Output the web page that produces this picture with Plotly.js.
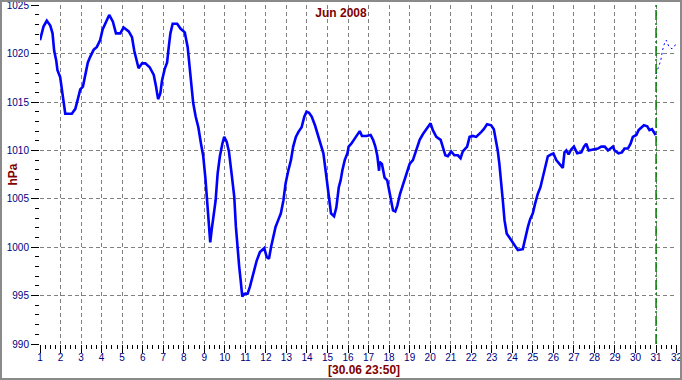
<!DOCTYPE html>
<html>
<head>
<meta charset="utf-8">
<script src="https://cdn.plot.ly/plotly-3.0.1.min.js"></script>
<style>
html,body{margin:0;padding:0;background:#fff;}
#wrap{position:relative;width:682px;height:380px;}
#chart{width:682px;height:380px;}
#frame{position:absolute;left:0;top:0;width:682px;height:380px;box-sizing:border-box;border:2px solid #8a8a8a;pointer-events:none;}
</style>
</head>
<body>
<div id="wrap"><div id="chart"></div><div id="frame"></div></div>
<script>
// Measured pressure, June 2008 (day of month, hPa)
const days = [1.00,1.09,1.17,1.33,1.50,1.61,1.69,1.79,1.85,1.98,2.07,2.15,2.23,2.55,2.72,2.83,2.96,3.09,3.20,3.33,3.45,3.61,3.77,3.93,4.05,4.18,4.37,4.55,4.70,4.91,5.07,5.32,5.48,5.59,5.72,5.80,5.97,6.13,6.34,6.54,6.65,6.75,6.86,6.94,7.07,7.19,7.27,7.35,7.46,7.68,7.84,8.05,8.19,8.30,8.38,8.46,8.58,8.71,8.84,8.95,9.06,9.16,9.23,9.29,9.36,9.44,9.55,9.65,9.76,9.88,9.97,10.09,10.20,10.33,10.46,10.54,10.62,10.70,10.77,10.85,10.95,11.11,11.22,11.39,11.55,11.71,11.92,12.04,12.15,12.25,12.36,12.47,12.60,12.73,12.85,12.96,13.09,13.22,13.33,13.46,13.58,13.74,13.87,13.98,14.10,14.23,14.39,14.55,14.68,14.80,14.91,15.01,15.09,15.17,15.32,15.43,15.55,15.64,15.72,15.84,15.97,16.03,16.16,16.29,16.41,16.57,16.68,16.89,17.10,17.22,17.33,17.43,17.51,17.54,17.65,17.78,17.91,18.03,18.11,18.19,18.30,18.40,18.53,18.67,18.84,19.00,19.16,19.32,19.49,19.65,19.81,20.02,20.13,20.30,20.51,20.62,20.74,20.86,21.02,21.18,21.35,21.48,21.59,21.80,21.92,22.08,22.24,22.48,22.61,22.77,22.97,23.10,23.21,23.29,23.37,23.46,23.54,23.62,23.73,23.86,24.02,24.14,24.27,24.51,24.63,24.76,24.87,25.00,25.11,25.24,25.37,25.49,25.60,25.73,25.89,26.00,26.14,26.30,26.46,26.54,26.63,26.74,26.87,27.00,27.16,27.36,27.49,27.60,27.72,27.93,28.17,28.33,28.50,28.66,28.79,28.90,28.98,29.17,29.34,29.46,29.63,29.76,29.87,30.04,30.15,30.28,30.41,30.57,30.68,30.80,30.93,30.98];
const pressure = [1021.4,1022.1,1022.8,1023.4,1022.9,1022.1,1020.3,1019.3,1018.3,1017.6,1016.2,1015.2,1013.8,1013.8,1014.3,1015.2,1016.3,1016.6,1017.9,1019.1,1019.7,1020.4,1020.7,1021.4,1022.5,1023.1,1024.0,1023.3,1022.1,1022.1,1022.7,1022.3,1021.7,1020.3,1019.1,1018.5,1019.0,1019.0,1018.6,1017.8,1016.6,1015.3,1015.9,1017.2,1018.4,1019.1,1020.7,1022.1,1023.1,1023.1,1022.6,1022.2,1020.7,1018.6,1016.6,1014.9,1013.5,1012.4,1010.7,1009.4,1007.0,1004.3,1001.8,1000.5,1001.8,1003.1,1004.8,1007.6,1009.4,1010.7,1011.4,1010.9,1009.9,1007.6,1005.2,1002.1,999.7,998.0,996.6,994.9,995.2,995.2,995.9,997.3,998.6,999.5,999.9,999.0,998.8,1000.0,1001.1,1002.1,1002.8,1003.5,1004.8,1006.6,1007.9,1009.0,1010.4,1011.4,1011.9,1012.4,1013.5,1014.0,1013.9,1013.5,1012.6,1011.4,1010.4,1009.7,1007.9,1006.2,1004.8,1003.5,1003.2,1004.1,1006.2,1006.9,1007.9,1009.0,1009.7,1010.4,1010.7,1011.1,1011.6,1012.0,1011.5,1011.5,1011.6,1011.1,1010.4,1009.4,1007.9,1008.8,1008.6,1007.2,1006.9,1005.7,1004.8,1003.8,1003.7,1004.3,1005.5,1006.4,1007.6,1008.6,1009.0,1010.0,1011.1,1011.7,1012.2,1012.8,1012.1,1011.4,1011.1,1010.2,1009.5,1009.4,1009.9,1009.5,1009.5,1009.2,1009.9,1010.4,1011.4,1011.5,1011.4,1011.9,1012.2,1012.7,1012.6,1012.2,1011.1,1010.0,1008.6,1006.9,1004.8,1002.8,1001.4,1001.0,1000.5,1000.0,999.7,999.8,1001.0,1002.1,1002.9,1003.5,1004.5,1005.5,1006.2,1007.2,1008.3,1009.4,1009.6,1009.7,1009.0,1008.6,1008.2,1009.8,1010.0,1009.6,1010.1,1010.4,1009.7,1009.8,1010.4,1010.7,1010.0,1010.1,1010.2,1010.4,1010.4,1010.0,1010.2,1010.4,1010.0,1009.7,1009.8,1010.2,1010.2,1010.7,1011.4,1011.6,1012.1,1012.4,1012.6,1012.5,1012.1,1012.2,1011.7,1011.6];

// Forecast (dotted) after the current time
const forecastDays = [31.00,31.10,31.23,31.31,31.40,31.50,31.63,31.78,31.88,31.99];
const forecastPressure = [1017.9,1018.6,1019.3,1020.3,1021.0,1021.4,1020.7,1020.5,1020.7,1021.1];

// Axis ticks / labels
const xTicks = [1,2,3,4,5,6,7,8,9,10,11,12,13,14,15,16,17,18,19,20,21,22,23,24,25,26,27,28,29,30,31,32];
const xGrid = [2,3,4,5,6,7,8,9,10,11,12,13,14,15,16,17,18,19,20,21,22,23,24,25,26,27,28,29,30,31];
const yTicks = [990,995,1000,1005,1010,1015,1020,1025];
const yGrid = [995,1000,1005,1010,1015,1020];
const nowDay = 31;
const titleText = "Jun 2008";
const yLabel = "hPa";
const stampText = "[30.06 23:50]";

const tickFont = {family: "Arial, 'Liberation Sans', sans-serif", size: 10, color: "#000080"};
const redFont = {family: "Arial, 'Liberation Sans', sans-serif", size: 12, color: "#800000"};

const xRange = [1, 32.02];
const yRange = [990, 1025.03];

const traces = [
  {x: days, y: pressure, type: "scatter", mode: "lines", xaxis: "x", yaxis: "y",
   line: {color: "#0000ff", width: 2.6}, hoverinfo: "skip"},
  {x: forecastDays, y: forecastPressure, type: "scatter", mode: "lines", xaxis: "x", yaxis: "y",
   line: {color: "#0000ff", width: 1, dash: "2px,3px"}, hoverinfo: "skip"},
  {x: forecastDays, y: forecastPressure, type: "scatter", mode: "lines", xaxis: "x2", yaxis: "y2",
   line: {width: 0}, opacity: 0, hoverinfo: "skip"}
];

const layout = {
  width: 682, height: 380,
  margin: {l: 40, r: 5, t: 5, b: 36},
  paper_bgcolor: "#ffffff", plot_bgcolor: "#ffffff",
  showlegend: false,
  title: {text: "<b>" + titleText + "</b>", font: redFont, x: 0.5, xref: "container", y: 1 - 13/380, yref: "container", yanchor: "middle"},
  xaxis: {
    range: xRange, tickvals: xTicks, ticktext: xTicks.map(String),
    ticks: "outside", ticklen: 8, tickwidth: 1, tickcolor: "#000000",
    showgrid: false, zeroline: false, showline: false,
    tickfont: tickFont, ticklabeloverflow: "allow", ticklabelstandoff: -4,
    minor: {dtick: 0.25, tick0: 1, ticks: "outside", ticklen: 4, tickwidth: 1, tickcolor: "#000000", showgrid: false}
  },
  yaxis: {
    range: yRange, tickvals: yTicks, ticktext: yTicks.map(String),
    ticks: "outside", ticklen: 8, tickwidth: 1, tickcolor: "#000000",
    showgrid: false, zeroline: false, showline: false,
    tickfont: tickFont, ticklabeloverflow: "allow",
    minor: {dtick: 1, tick0: 990, ticks: "outside", ticklen: 4, tickwidth: 1, tickcolor: "#000000", showgrid: false}
  },
  xaxis2: {
    overlaying: "x", anchor: "y2", range: xRange, tickvals: xGrid,
    showticklabels: false, ticks: "", showgrid: true, gridcolor: "#808080", gridwidth: 1,
    griddash: "4px,3px", zeroline: false, showline: false
  },
  yaxis2: {
    overlaying: "y", anchor: "x2", range: yRange, tickvals: yGrid,
    showticklabels: false, ticks: "", showgrid: true, gridcolor: "#808080", gridwidth: 1,
    griddash: "4px,3px", zeroline: false, showline: false
  },
  shapes: [
    {type: "line", xref: "x", yref: "paper", x0: nowDay, x1: nowDay, y0: 0, y1: 1,
     line: {color: "#008000", width: 1.5, dash: "10px,3px,2px,3px"}, layer: "above"}
  ],
  annotations: [
    {text: "<b>" + yLabel + "</b>", xref: "paper", yref: "paper", x: -28/637, y: 0.5,
     xanchor: "center", yanchor: "middle", textangle: -90, showarrow: false, font: redFont},
    {text: "<b>" + stampText + "</b>", xref: "paper", yref: "paper", x: (364-40)/637, y: -26/339,
     xanchor: "center", yanchor: "middle", showarrow: false, font: redFont}
  ]
};

Plotly.newPlot("chart", traces, layout, {staticPlot: true, displayModeBar: false});
</script>
</body>
</html>
